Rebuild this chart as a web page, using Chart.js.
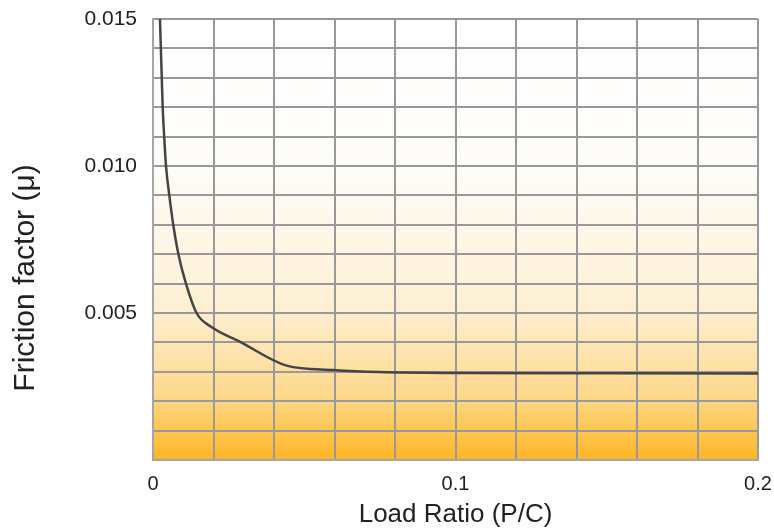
<!DOCTYPE html>
<html>
<head>
<meta charset="utf-8">
<script src="https://cdn.jsdelivr.net/npm/chart.js@4"></script>
<style>
  body { margin: 0; background: #fff; }
  #box { width: 774px; height: 530px; }
</style>
</head>
<body>
<div id="box"><canvas id="myChart" width="774" height="530"></canvas></div>
<script>
// load ratio (P/C) and friction factor
const loadRatio = [0.0023, 0.0026, 0.0029, 0.0032, 0.0037, 0.0043, 0.0054, 0.0067, 0.0084, 0.0109, 0.0144, 0.0192, 0.0288, 0.0442, 0.0595, 0.075, 0.1, 0.15, 0.2];
const friction  = [0.0150, 0.0140, 0.0130, 0.0120, 0.0110, 0.0100, 0.0090, 0.0080, 0.0070, 0.0060, 0.0050, 0.00453, 0.00402, 0.00321, 0.00306, 0.00299, 0.00296, 0.00295, 0.00294];
const xLabels = ['0', '0.1', '0.2'];
const yLabels = ['0.005', '0.010', '0.015'];

const fuente = '"Liberation Sans", Arial, sans-serif';

const fondo = {
  id: 'fondo',
  beforeDraw(chart) {
    const a = chart.chartArea;
    const ctx = chart.ctx;
    const g = ctx.createLinearGradient(0, a.top, 0, a.bottom);
    g.addColorStop(0, '#ffffff');
    g.addColorStop(0.35, '#fefcf8');
    g.addColorStop(0.65, '#fef0d4');
    g.addColorStop(0.85, '#fed98e');
    g.addColorStop(1, '#fdb623');
    ctx.save();
    ctx.fillStyle = g;
    ctx.fillRect(a.left, a.top, a.right - a.left, a.bottom - a.top);
    ctx.restore();
  }
};

// titulo del eje y, centrado donde esta en la imagen
const tituloY = {
  id: 'tituloY',
  afterDraw(chart) {
    const ctx = chart.ctx;
    ctx.save();
    ctx.translate(26, 278);
    ctx.rotate(-Math.PI / 2);
    ctx.font = '30px ' + fuente;
    ctx.fillStyle = '#222';
    ctx.textAlign = 'center';
    ctx.textBaseline = 'middle';
    ctx.fillText('Friction factor (\u03bc)', 0, 0);
    ctx.restore();
  }
};

const ctx = document.getElementById('myChart');

new Chart(ctx, {
  type: 'line',
  data: {
    datasets: [{
      data: loadRatio.map((v, i) => ({ x: v, y: friction[i] })),
      borderColor: '#444444',
      borderWidth: 2.5,
      pointRadius: 0,
      cubicInterpolationMode: 'monotone',
      fill: false
    }]
  },
  options: {
    responsive: false,
    animation: false,
    layout: { padding: { top: 19, right: 16, left: 0, bottom: 0 } },
    plugins: { legend: { display: false }, tooltip: { enabled: false } },
    scales: {
      x: {
        type: 'linear',
        min: 0,
        max: 0.2,
        afterFit(scale) {
          scale.height = 70;
          scale.paddingLeft = 0;
          scale.paddingRight = 0;
        },
        ticks: {
          stepSize: 0.02,
          autoSkip: false,
          maxRotation: 0,
          padding: 12,
          color: '#222',
          font: { family: fuente, size: 20 },
          callback(v) {
            const r = Math.round(v * 1000) / 1000;
            if (r === 0) return xLabels[0];
            if (r === 0.1) return xLabels[1];
            if (r === 0.2) return xLabels[2];
            return '';
          }
        },
        grid: { color: '#999999', lineWidth: 2, drawTicks: false },
        border: { color: '#a6a6a6', width: 2 },
        title: {
          display: true,
          text: 'Load Ratio (P/C)',
          color: '#222',
          font: { family: fuente, size: 26 },
          padding: { top: 0, bottom: 0 }
        }
      },
      y: {
        min: 0,
        max: 0.015,
        afterFit(scale) {
          scale.width = 153;
          scale.paddingTop = 0;
          scale.paddingBottom = 0;
        },
        ticks: {
          stepSize: 0.001,
          autoSkip: false,
          padding: 16,
          color: '#222',
          font: { family: fuente, size: 21 },
          callback(v) {
            const r = Math.round(v * 1000);
            if (r === 5) return yLabels[0];
            if (r === 10) return yLabels[1];
            if (r === 15) return yLabels[2];
            return '';
          }
        },
        grid: { color: '#999999', lineWidth: 2, drawTicks: false },
        border: { color: '#a6a6a6', width: 2 }
      }
    }
  },
  plugins: [fondo, tituloY]
});
</script>
</body>
</html>
